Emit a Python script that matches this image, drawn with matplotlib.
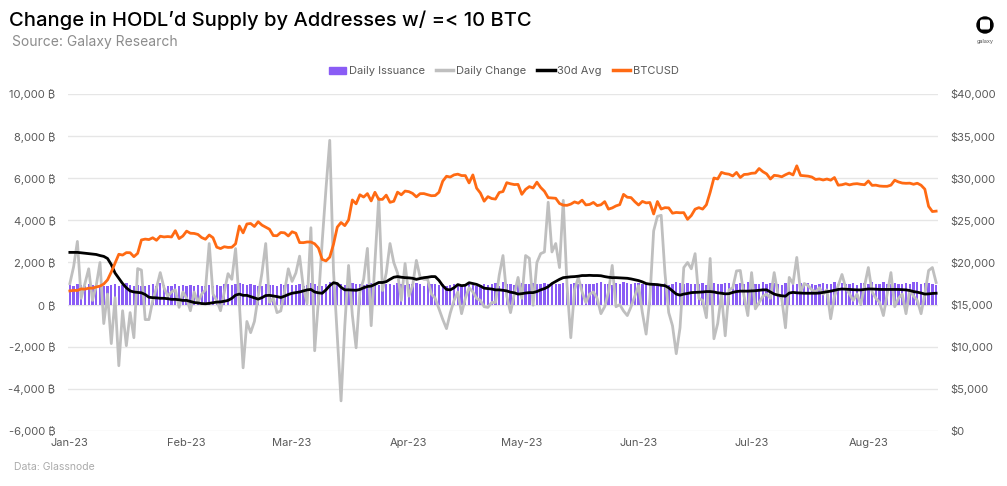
import numpy as np
import pandas as pd
import matplotlib
matplotlib.use("Agg")
import matplotlib.pyplot as plt
import matplotlib.dates as mdates
from matplotlib.patches import Patch, Circle, FancyBboxPatch
from matplotlib.lines import Line2D
from matplotlib.ticker import FuncFormatter, MultipleLocator

plt.rcParams['font.family'] = ['Inter', 'DejaVu Sans']

# daily issuance (BTC), Jan 1 - Aug 19 2023
issuance = [
    940, 900, 960, 910, 870, 1000, 930, 890, 950, 880,
    900, 920, 960, 870, 930, 1010, 950, 880, 920, 860,
    900, 940, 980, 900, 1040, 950, 900, 870, 960, 890, 930,
    880, 910, 870, 940, 900, 860, 930, 880, 920, 900,
    960, 1000, 930, 960, 1020, 980, 950, 980, 930, 900,
    870, 960, 940, 910, 880, 1000, 950, 970,
    930, 910, 960, 880, 950, 1020, 960, 900, 880, 1000,
    1060, 1020, 960, 1000, 950, 900, 1040, 980, 960, 920,
    1000, 1020, 970, 940, 980, 1000, 960, 920, 1020, 960, 950,
    990, 960, 1020, 980, 900, 1040, 970, 960, 940, 980,
    900, 920, 960, 1000, 950, 980, 1080, 950, 900, 920,
    980, 940, 960, 1010, 900, 1060, 990, 980, 950, 1000,
    1020, 990, 960, 1040, 1000, 980, 1020, 980, 1030, 1000,
    980, 1030, 960, 1000, 1020, 980, 990, 960, 1000, 980,
    1020, 1050, 1000, 980, 950, 1010, 990, 1060, 1030, 1000, 1040,
    1020, 980, 960, 940, 1020, 1000, 980, 1040, 950, 980,
    1080, 1010, 1000, 1040, 980, 960, 1000, 1010, 940, 1000,
    1020, 960, 980, 1040, 1020, 1000, 960, 1010, 990, 1050,
    1040, 980, 1000, 1050, 960, 1010, 1040, 980, 940, 1020,
    1000, 1080, 960, 1020, 1000, 1040, 1000, 940, 980, 1020,
    960, 1000, 1060, 980, 1040, 960, 1000, 1020, 940, 1010, 1040,
    980, 1060, 1000, 960, 1050, 1000, 980, 1040, 980, 960,
    1020, 1000, 1060, 1050, 980, 1040, 1030, 1000, 940,
]

daily_change = [
    1000, 1800, 3000, 300, 1000, 1700, 200, 900, 2000, -900,
    500, -1850, 330, -2900, -290, -1950, -380, -1570, 1710, 1640,
    -710, -710, 190, 800, 1520, 800, 400, 600, 700, -130, 600,
    300, -290, 600, 100, 500, 700, 2900, 500, 200, -290,
    600, 1470, 1200, 2660, 50, -3000, -800, -1330, -800, 400,
    1500, 2900, 100, 300, -380, -300, 600, 1700,
    1100, 1500, 2300, 800, 50, 3650, -2190, 200, 3000, 5500,
    7800, 1600, -1500, -4570, -1000, 1860, -500, -2050, 600, 1200,
    2670, -1000, 2000, 5050, 670, 1500, 2900, 2000, 1500, 200, 1950,
    400, 900, 2100, 1300, 1200, 1200, 500, 300, -200, -700,
    -1140, -400, 200, 600, -430, 300, 800, 600, 300, 200,
    -100, -130, 100, 100, 1400, 2330, 400, -380, 500, 1290,
    300, 2330, 2200, -30, 2000, 2420, 2500, 4860, 2500, 2900,
    1760, 4950, 900, -1570, 700, 1300, 600, 100, 500, 600,
    300, -430, -100, 600, 1860, -100, 0, -300, -520, -100, 400,
    900, -380, -1400, 300, 3500, 4190, 4240, 1500, -380, -1000,
    -2330, -1100, 1760, 2000, 1700, 2420, 300, 200, -620, 2190,
    -1620, -900, 500, -1480, 700, 800, 1600, 1620, 400, -520,
    1520, -200, 100, 400, 500, 300, 1520, 500, 300, -1100,
    1290, 1000, 2240, 600, 1000, 900, 700, 600, 800, 500,
    700, -670, 400, 900, 1430, 800, 500, 200, 500, 0, 900,
    1760, 600, 300, 100, -520, 500, 1520, -100, 300, 500,
    -430, 700, 400, 200, -430, 500, 1620, 1760, 1050,
]

avg_30d = [
    2480, 2480, 2480, 2460, 2440, 2420, 2400, 2380, 2330, 2290,
    2190, 1900, 1500, 1250, 1000, 800, 650, 600, 580, 560,
    480, 350, 330, 320, 300, 300, 280, 250, 250, 230, 200,
    200, 150, 100, 80, 50, 40, 60, 90, 120, 130,
    160, 200, 300, 450, 500, 440, 440, 380, 320, 260,
    330, 430, 440, 410, 380, 340, 400, 480,
    540, 570, 600, 650, 700, 720, 600, 560, 540, 700,
    900, 1040, 1000, 820, 700, 700, 690, 680, 720, 800,
    860, 880, 960, 1050, 1050, 1090, 1200, 1300, 1330, 1300, 1280,
    1270, 1250, 1200, 1240, 1280, 1300, 1330, 1330, 1150, 900,
    720, 700, 800, 950, 900, 920, 1040, 1000, 960, 880,
    780, 760, 740, 700, 700, 680, 650, 590, 560, 500,
    520, 550, 570, 570, 620, 700, 760, 850, 1000, 1100,
    1200, 1280, 1300, 1320, 1330, 1350, 1380, 1380, 1390, 1380,
    1380, 1370, 1330, 1300, 1280, 1280, 1270, 1260, 1250, 1220, 1180,
    1140, 1080, 1000, 970, 960, 950, 920, 900, 800, 650,
    500, 450, 500, 530, 570, 580, 590, 600, 620, 620,
    600, 560, 540, 510, 520, 580, 620, 640, 640, 640,
    650, 660, 680, 700, 700, 600, 500, 450, 420, 400,
    550, 580, 560, 550, 540, 540, 540, 540, 550, 580,
    610, 640, 680, 720, 740, 730, 720, 710, 700, 700, 720,
    740, 740, 730, 720, 720, 720, 720, 720, 720, 710,
    700, 670, 620, 590, 550, 500, 510, 530, 540,
]

btc_usd = [
    16625, 16688, 16680, 16863, 16836, 16951, 16955, 17091, 17197, 17446,
    17934, 18869, 19910, 20977, 20880, 21170, 21161, 20689, 21086, 22676,
    22777, 22720, 22934, 22636, 23117, 23032, 23078, 23031, 23774, 22840, 23139,
    23723, 23471, 23449, 23331, 22955, 22760, 23264, 22939, 21819, 21651,
    21870, 21788, 21808, 22220, 24327, 23517, 24569, 24631, 24271, 24839,
    24436, 24188, 23947, 23198, 23175, 23561, 23522, 23147,
    23646, 23475, 22362, 22354, 22436, 22429, 22219, 21718, 20363, 20187,
    20633, 22163, 24197, 24746, 24375, 25053, 27423, 26965, 28038, 27767,
    28175, 27307, 28333, 27493, 27494, 27994, 27139, 27268, 28348, 28033, 28478,
    28411, 28199, 27790, 28168, 28177, 28044, 27925, 27947, 28333, 29652,
    30235, 30139, 30399, 30485, 30318, 30315, 29445, 30397, 28822, 28245,
    27276, 27817, 27591, 27525, 28307, 28422, 29473, 29340, 29248, 29268,
    28091, 28680, 29006, 28847, 29534, 28904, 28454, 27694, 27658, 27621,
    27000, 26804, 26784, 26930, 27192, 27036, 27398, 26832, 26890, 27129,
    26753, 26851, 27225, 26334, 26476, 26719, 26868, 28085, 27745, 27702, 27219,
    26819, 27249, 27075, 27119, 25760, 27238, 26345, 26508, 26480, 25851,
    25940, 25902, 25918, 25124, 25576, 26327, 26510, 26336, 26851, 28327,
    30027, 29912, 30695, 30548, 30480, 30271, 30689, 30086, 30446, 30477,
    30590, 30620, 31156, 30777, 30514, 29910, 30346, 30292, 30171, 30415,
    30621, 30391, 31476, 30335, 30295, 30249, 30145, 29856, 29913, 29792,
    29908, 29771, 30084, 29176, 29227, 29354, 29210, 29319, 29357, 29278, 29230,
    29676, 29152, 29178, 29075, 29043, 29041, 29180, 29766, 29562, 29430,
    29397, 29416, 29284, 29408, 29170, 28701, 26664, 26049, 26096,
]

dates = pd.date_range("2023-01-01", periods=len(btc_usd), freq="D")

purple = "#8A5CF5"
grey = "#BFBFBF"
orange = "#FF6A13"
tick_col = "#595959"

fig = plt.figure(figsize=(10.07, 4.86), dpi=100)
ax = fig.add_axes([0.0675, 0.1132, 0.864, 0.6934])

ax.bar(dates, issuance, width=0.62, color=purple, zorder=2)
ax.plot(dates, daily_change, color=grey, lw=2, zorder=3)
ax.plot(dates, avg_30d, color="black", lw=2, zorder=4)
ax.set_ylim(-6000, 10000)
ax.yaxis.set_major_locator(MultipleLocator(2000))
ax.yaxis.set_major_formatter(FuncFormatter(lambda v, p: f"{v:,.0f} \u20bf"))
ax.grid(axis="y", color="#E6E6E6", lw=1)
ax.set_axisbelow(True)

ax2 = ax.twinx()
ax2.plot(dates, btc_usd, color=orange, lw=2, zorder=5)
ax2.set_ylim(0, 40000)
ax2.yaxis.set_major_locator(MultipleLocator(5000))
ax2.yaxis.set_major_formatter(FuncFormatter(lambda v, p: f"${v:,.0f}"))

for a in (ax, ax2):
    for s in a.spines.values():
        s.set_visible(False)
    a.tick_params(length=0, labelsize=8, labelcolor=tick_col)
ax.tick_params(axis="y", pad=9)
ax2.tick_params(axis="y", pad=9)
ax.tick_params(axis="x", pad=5)

ax.xaxis.set_major_locator(mdates.MonthLocator())
ax.xaxis.set_major_formatter(mdates.DateFormatter("%b-%y"))
ax.set_xlim(dates[0] - pd.Timedelta(hours=12), dates[-1] + pd.Timedelta(hours=12))

handles = [
    Patch(color=purple),
    Line2D([], [], color=grey, lw=2.5),
    Line2D([], [], color="black", lw=2.5),
    Line2D([], [], color=orange, lw=2.5),
]
labels = ["Daily Issuance", "Daily Change", "30d Avg", "BTCUSD"]
fig.legend(handles, labels, loc="center", bbox_to_anchor=(0.5, 0.854), ncol=4,
           frameon=False, fontsize=8, handlelength=1.6, handleheight=0.6,
           handletextpad=0.2, columnspacing=1.0, labelcolor=tick_col)

fig.text(0.009, 0.958, "Change in HODL\u2019d Supply by Addresses w/ =< 10 BTC",
         fontsize=14.5, weight="medium", va="center", ha="left", color="black")
fig.text(0.012, 0.914, "Source: Galaxy Research", fontsize=10, color="#8C8C8C",
         va="center", ha="left")
fig.text(0.014, 0.039, "Data: Glassnode", fontsize=7.5, color="#ABABAB",
         va="center", ha="left")

# logo
lax = fig.add_axes([975 / 1007, 1 - 36 / 486, 20 / 1007, 22 / 486])
lax.set_xlim(0, 20)
lax.set_ylim(0, 22)
lax.set_aspect("equal")
lax.axis("off")
lax.add_patch(Circle((10, 11), 8, color="black"))
lax.add_patch(FancyBboxPatch((6, 7.5), 8, 8, boxstyle="round,pad=0.3,rounding_size=1.5",
                             color="white"))
fig.text(985 / 1007, 1 - 41 / 486, "galaxy", fontsize=4, color="#555555",
         ha="center", va="center")

fig.savefig("out.png", dpi=100)
